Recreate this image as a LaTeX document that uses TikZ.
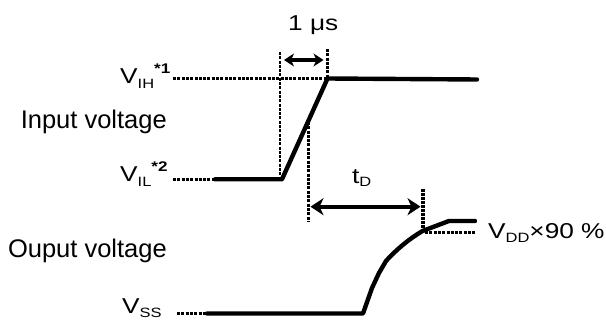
\documentclass[tikz,border=0pt]{standalone}
\usepackage{fontspec}
\setmainfont{Liberation Sans}
\usetikzlibrary{arrows.meta}
\newcommand{\wx}[1]{\scalebox{1.22}[1]{#1}}
\newcommand{\lblsz}{\fontsize{21.5}{24}\selectfont}
\newcommand{\subsz}{\fontsize{13.5}{14}\selectfont}
\newcommand{\supsz}{\fontsize{14}{14}\selectfont\bfseries}
\begin{document}
\begin{tikzpicture}[x=1pt,y=-1pt,
  wave/.style={line width=4.4pt, line join=round, line cap=round},
  guide/.style={line width=2.6pt, dash pattern=on 3pt off 1.3pt},
  thickguide/.style={line width=3.6pt, dash pattern=on 2.6pt off 1.4pt},
  dimarrow/.style={line width=4pt, {Stealth[length=13pt,width=17pt,inset=4pt]}-{Stealth[length=13pt,width=17pt,inset=4pt]}},
  smallarrow/.style={line width=3.4pt, {Stealth[length=10pt,width=13pt,inset=3pt]}-{Stealth[length=10pt,width=13pt,inset=3pt]}},
  bigtext/.style={inner sep=0pt, font=\fontsize{25.5}{28}\selectfont},
  lbl/.style={inner sep=0pt, font=\lblsz}]
\useasboundingbox (0,0) rectangle (606,320);

% key coordinates
\coordinate (ihs) at (173,78.5);
\coordinate (ihtop) at (327.5,78.5);
\coordinate (ihend) at (477,79.5);
\coordinate (ils) at (173,179.3);
\coordinate (ilsol) at (215,179.3);
\coordinate (ilbot) at (282,179.3);
\coordinate (sss) at (177,313.5);
\coordinate (sssol) at (207,313.5);
\coordinate (ssend) at (363,313.5);
\coordinate (o1) at (372,288);
\coordinate (o2) at (379,273);
\coordinate (o3) at (386,261);
\coordinate (o90) at (422.5,231);
\coordinate (o4) at (449,221);
\coordinate (oend) at (475,221);

% guide lines
\coordinate (gl1) at (280,52);
\coordinate (gl2) at (280,176);
\coordinate (gr1) at (327.5,49);
\coordinate (gm1) at (308.5,122);
\coordinate (gm2) at (308.5,222);
\coordinate (g90a) at (423,189);
\coordinate (g90b) at (423,231);
\coordinate (h90a) at (425,232.5);
\coordinate (h90b) at (476,232.5);

\draw[guide] (ihs) -- (ihtop);
\draw[guide] (ils) -- (ilsol);
\draw[guide] (sss) -- (sssol);
\draw[guide] (gl1) -- (gl2);
\draw[guide] (gr1) -- (ihtop);
\draw[guide] (gm1) -- (gm2);
\draw[thickguide] (g90a) -- (g90b);
\draw[guide] (h90a) -- (h90b);

% waveforms
\draw[wave] (ilsol) -- (ilbot) -- (ihtop) -- (ihend);
\draw[wave] (sssol) -- (ssend) -- (o1) -- (o2) -- (o3)
  .. controls (397,249) and (409,239) .. (o90) -- (o4) -- (oend);

% dimension arrows
\coordinate (a1l) at (284,60);
\coordinate (a1r) at (323.5,60);
\draw[smallarrow] (a1l) -- (a1r);
\coordinate (a2l) at (310.5,206.7);
\coordinate (a2r) at (420.5,206.7);
\draw[dimarrow] (a2l) -- (a2r);

% labels
\node[lbl, anchor=base west] (us) at (288,31) {\wx{1 μs}};
\node[lbl, anchor=base west] (td) at (352,183.3) {\wx{t\raisebox{-3pt}{\subsz D}}};
\node[lbl, anchor=base west] (vih) at (120,84) {\wx{V\raisebox{-5pt}{\subsz IH}\raisebox{10pt}{\supsz *1}}};
\node[lbl, anchor=base west] (vil) at (120,182) {\wx{V\raisebox{-5pt}{\subsz IL}\raisebox{10pt}{\supsz *2}}};
\node[lbl, anchor=base west] (vss) at (122,313.5) {\wx{V\raisebox{-4pt}{\subsz SS}}};
\node[lbl, anchor=base west] (vdd) at (488,238.5) {\wx{V\raisebox{-4pt}{\subsz DD}×90 \%}};
\node[bigtext, anchor=base east] (inp) at (167,128.3) {Input voltage};
\node[bigtext, anchor=base east] (outp) at (167,257.3) {Ouput voltage};
\end{tikzpicture}
\end{document}
